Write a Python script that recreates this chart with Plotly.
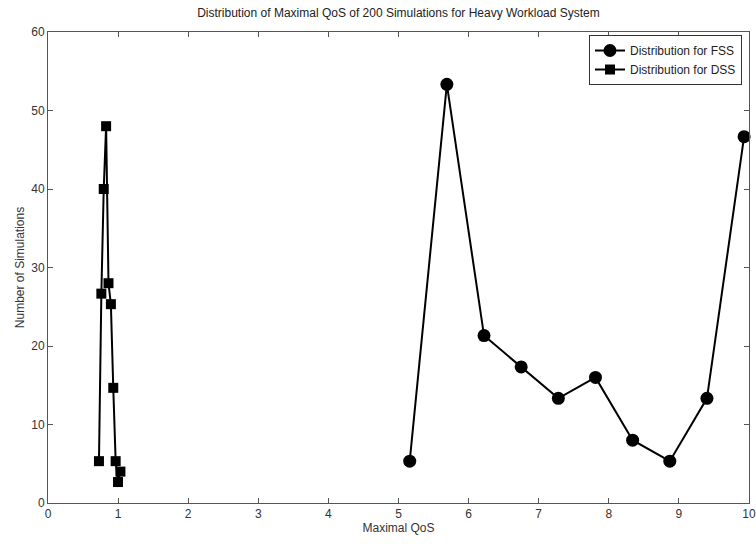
import plotly.graph_objects as go

# FSS distribution (bin centres, counts)
fss_x = [5.16, 5.69, 6.22, 6.75, 7.28, 7.81, 8.34, 8.87, 9.40, 9.93]
fss_y = [5.33, 53.33, 21.33, 17.33, 13.33, 16.0, 8.0, 5.33, 13.33, 46.67]

# DSS distribution (bin centres, counts)
dss_x = [0.727, 0.761, 0.795, 0.829, 0.863, 0.897, 0.931, 0.965, 0.999, 1.033]
dss_y = [5.33, 26.67, 40.0, 48.0, 28.0, 25.33, 14.67, 5.33, 2.67, 4.0]

x_ticks = [0, 1, 2, 3, 4, 5, 6, 7, 8, 9, 10]
y_ticks = [0, 10, 20, 30, 40, 50, 60]

FONT = "Liberation Sans, Arial, sans-serif"

fig = go.Figure()
fig.add_trace(go.Scatter(
    x=fss_x, y=fss_y, mode="lines+markers", name="Distribution for FSS",
    line=dict(color="black", width=2),
    marker=dict(symbol="circle", size=13, color="black"),
    cliponaxis=False,
))
fig.add_trace(go.Scatter(
    x=dss_x, y=dss_y, mode="lines+markers", name="Distribution for DSS",
    line=dict(color="black", width=2),
    marker=dict(symbol="square", size=10, color="black"),
    cliponaxis=False,
))

axis_common = dict(
    showgrid=False, zeroline=False, showline=True, linecolor="#555555", linewidth=1,
    mirror="ticks", ticks="inside", ticklen=5, tickcolor="#555555", automargin=False,
    tickfont=dict(family=FONT, size=12, color="#333333"),
)

fig.update_layout(
    width=756, height=544,
    paper_bgcolor="white", plot_bgcolor="white",
    margin=dict(l=48, r=7, t=32, b=41, autoexpand=False),
    title=dict(text="Distribution of Maximal QoS of 200 Simulations for Heavy Workload System",
               x=0.5, xref="paper", yref="container", y=0.977, yanchor="middle",
               font=dict(family=FONT, size=12, color="#222222")),
    xaxis=dict(range=[0, 10], tickvals=x_ticks,
               title=dict(text="Maximal QoS", font=dict(family=FONT, size=12, color="#333333"), standoff=2),
               **axis_common),
    yaxis=dict(range=[0, 60], tickvals=y_ticks,
               title=dict(text="Number of Simulations", font=dict(family=FONT, size=12, color="#333333"), standoff=4),
               **axis_common),
    legend=dict(x=0.99, y=0.9936, xanchor="right", yanchor="top",
                bgcolor="white", bordercolor="#333333", borderwidth=1,
                font=dict(family=FONT, size=12, color="#222222"),
                tracegroupgap=0, itemwidth=30),
    showlegend=True,
)

fig.write_html(
    "out.html",
    config={"displayModeBar": False},
    post_script="document.body.style.margin='0';document.documentElement.style.overflow='hidden';",
)
